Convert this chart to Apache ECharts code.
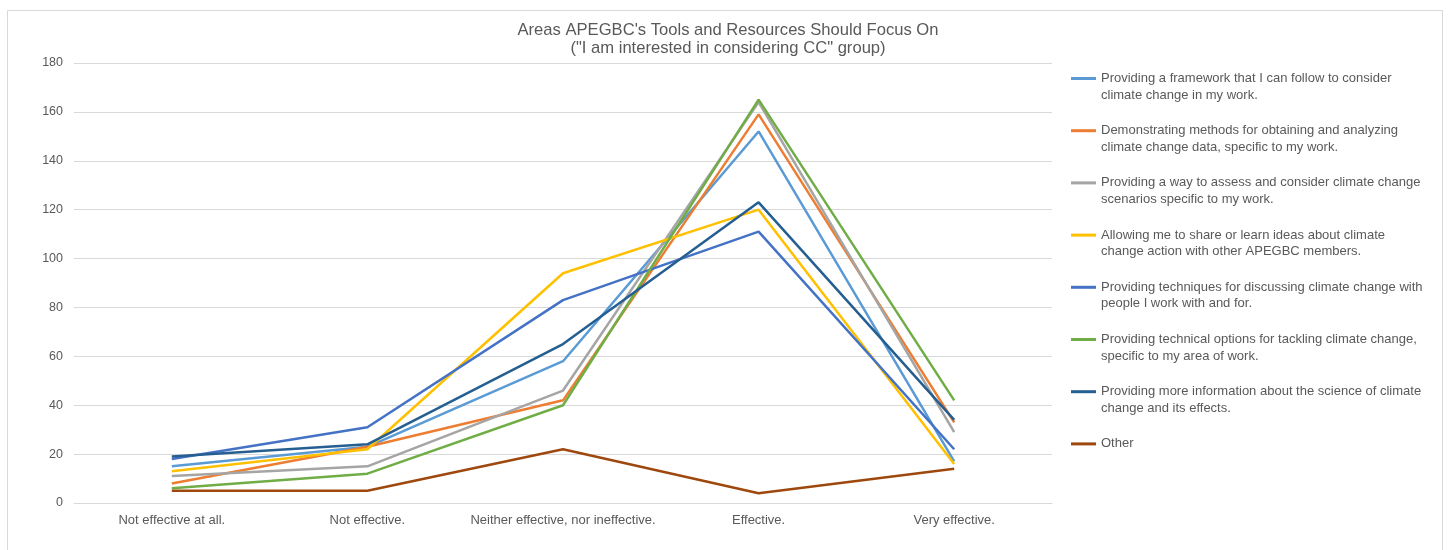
<!DOCTYPE html>
<html>
<head>
<meta charset="utf-8">
<script src="https://cdn.jsdelivr.net/npm/echarts@6/dist/echarts.min.js"></script>
<style>
html,body{margin:0;padding:0;background:#fff;}
#chart{width:1450px;height:550px;}
</style>
</head>
<body>
<div id="chart"></div>
<script>
const categories = ['Not effective at all.', 'Not effective.', 'Neither effective, nor ineffective.', 'Effective.', 'Very effective.'];
const yTicks = [0, 20, 40, 60, 80, 100, 120, 140, 160, 180];

const seriesNames = [
  'Providing a framework that I can follow to consider climate change in my work.',
  'Demonstrating methods for obtaining and analyzing climate change data, specific to my work.',
  'Providing a way to assess and consider climate change scenarios specific to my work.',
  'Allowing me to share or learn ideas about climate change action with other APEGBC members.',
  'Providing techniques for discussing climate change with people I work with and for.',
  'Providing technical options for tackling climate change, specific to my area of work.',
  'Providing more information about the science of climate change and its effects.',
  'Other'
];
const legendLabels = [
  'Providing a framework that I can follow to consider\nclimate change in my work.',
  'Demonstrating methods for obtaining and analyzing\nclimate change data, specific to my work.',
  'Providing a way to assess and consider climate change\nscenarios specific to my work.',
  'Allowing me to share or learn ideas about climate\nchange action with other APEGBC members.',
  'Providing techniques for discussing climate change with\npeople I work with and for.',
  'Providing technical options for tackling climate change,\nspecific to my area of work.',
  'Providing more information about the science of climate\nchange and its effects.',
  'Other\n\u00a0'
];

const framework   = [15, 23, 58, 152, 17];
const demonstrate = [8, 23, 42, 159, 33];
const assess      = [11, 15, 46, 164, 29];
const allowing    = [13, 22, 94, 120, 16];
const techniques  = [18, 31, 83, 111, 22];
const technical   = [6, 12, 40, 165, 42];
const science     = [19, 24, 65, 123, 34];
const other       = [5, 5, 22, 4, 14];

const seriesValues = [framework, demonstrate, assess, allowing, techniques, technical, science, other];
const colors = ['#5B9BD5', '#ED7D31', '#A5A5A5', '#FFC000', '#4472C4', '#70AD47', '#255E91', '#9E480E'];

const FONT = '"Liberation Sans", Arial, sans-serif';
const TXT = '#595959';
const LH = 16.5;

const chart = echarts.init(document.getElementById('chart'), null, {renderer: 'canvas'});
chart.setOption({
  animation: false,
  color: colors,
  title: {
    text: 'Areas APEGBC\'s Tools and Resources Should Focus On\n("I am interested in considering CC" group)',
    left: 723, textAlign: 'center', top: 16,
    textStyle: {fontFamily: FONT, fontSize: 16.6, fontWeight: 'normal', color: TXT, lineHeight: 18}
  },
  graphic: [{
    type: 'rect', shape: {x: 7.5, y: 10.5, width: 1435, height: 540},
    style: {fill: 'none', stroke: '#d9d9d9', lineWidth: 1}, silent: true, z: -10
  }],
  legend: {
    orient: 'vertical', left: 1071, top: 53.75, padding: 0,
    itemWidth: 25, itemHeight: 3, itemGap: 2.7, icon: 'rect',
    data: seriesNames,
    formatter: name => '\n' + legendLabels[seriesNames.indexOf(name)],
    textStyle: {fontFamily: FONT, fontSize: 13, color: TXT, lineHeight: LH}
  },
  grid: {left: 74, right: 398, top: 63, bottom: 47, containLabel: false},
  xAxis: {
    type: 'category', data: categories, boundaryGap: true,
    axisLine: {show: true, lineStyle: {color: '#d9d9d9', width: 1}},
    axisTick: {show: false},
    axisLabel: {fontFamily: FONT, fontSize: 13, color: TXT, margin: 11, interval: 0}
  },
  yAxis: {
    type: 'value', min: yTicks[0], max: yTicks[yTicks.length - 1], interval: 20,
    axisLine: {show: false}, axisTick: {show: false},
    splitLine: {lineStyle: {color: '#d9d9d9', width: 1}},
    axisLabel: {fontFamily: FONT, fontSize: 12.5, color: TXT, margin: 11}
  },
  series: seriesNames.map((n, i) => ({
    name: n, type: 'line', data: seriesValues[i],
    showSymbol: false, symbol: 'none',
    lineStyle: {width: 2.5, color: colors[i]},
    itemStyle: {color: colors[i]}
  }))
});
</script>
</body>
</html>
